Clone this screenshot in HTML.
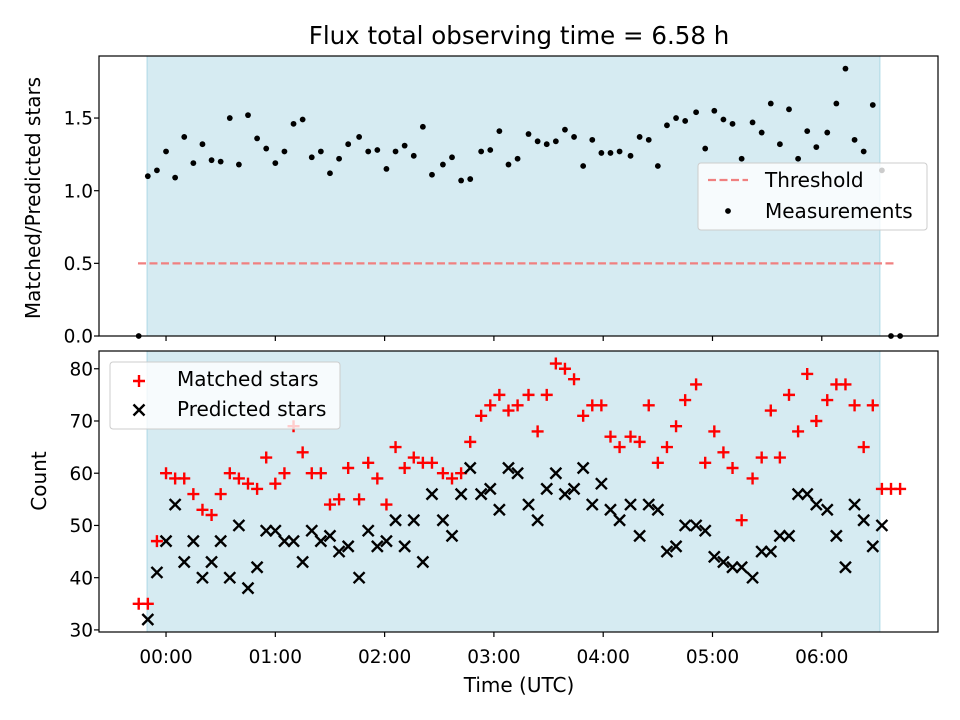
<!DOCTYPE html>
<html><head><meta charset="utf-8"><style>
html,body{margin:0;padding:0;background:#fff;}
svg{display:block;font-family:"DejaVu Sans","Liberation Sans",sans-serif;}
</style></head><body>
<svg id="chart" width="960" height="720" viewBox="0 0 960 720" xmlns="http://www.w3.org/2000/svg">
<rect width="960" height="720" fill="#fff"/>
<text x="519" y="44" text-anchor="middle" font-size="24.5">Flux total observing time = 6.58 h</text>
<g id="top"></g><g id="bot"></g>
</svg>
<script>
// time in minutes after 00:00 UTC
const times = [-15,-10,-5,0,5,10,15,20,25,30,35,40,45,50,55,60,65,70,75,80,85,90,95,100,106,111,116,121,126,131,136,141,146,152,157,162,167,173,178,183,188,193,199,204,209,214,219,224,229,234,239,244,249,255,260,265,270,275,280,285,291,296,301,306,311,316,322,327,332,337,342,347,352,357,363,368,373,378,383,388,393,398,403];
const ratios = [0,1.10,1.14,1.27,1.09,1.37,1.19,1.32,1.21,1.20,1.50,1.18,1.52,1.36,1.29,1.19,1.27,1.46,1.49,1.23,1.27,1.12,1.22,1.32,1.37,1.27,1.28,1.15,1.27,1.31,1.24,1.44,1.11,1.18,1.23,1.07,1.08,1.27,1.28,1.41,1.18,1.22,1.39,1.34,1.32,1.34,1.42,1.37,1.17,1.35,1.26,1.26,1.27,1.24,1.37,1.35,1.17,1.45,1.50,1.48,1.54,1.29,1.55,1.49,1.46,1.22,1.47,1.40,1.60,1.32,1.56,1.22,1.41,1.30,1.40,1.60,1.84,1.35,1.27,1.59,1.14,0,0];
const matched = [35,35,47,60,59,59,56,53,52,56,60,59,58,57,63,58,60,69,64,60,60,54,55,61,55,62,59,54,65,61,63,62,62,60,59,60,66,71,73,75,72,73,75,68,75,81,80,78,71,73,73,67,65,67,66,73,62,65,69,74,77,62,68,64,61,51,59,63,72,63,75,68,79,70,74,77,77,73,65,73,57,57,57];
const predicted = [null,32,41,47,54,43,47,40,43,47,40,50,38,42,49,49,47,47,43,49,47,48,45,46,40,49,46,47,51,46,51,43,56,51,48,56,61,56,57,53,61,60,54,51,57,60,56,57,61,54,58,53,51,54,48,54,53,45,46,50,50,49,44,43,42,42,40,45,45,48,48,56,56,54,53,48,42,54,51,46,50,null,null];
const threshold = [0.5];
const shadeRange = [-10.4, 391.9];
const xTicks = [0,60,120,180,240,300,360];
const xTickLabels = ["00:00","01:00","02:00","03:00","04:00","05:00","06:00"];
const topTicks = [0,0.5,1.0,1.5];
const topTickLabels = ["0.0","0.5","1.0","1.5"];
const botTicks = [30,40,50,60,70,80];
const botTickLabels = ["30","40","50","60","70","80"];

const NS="http://www.w3.org/2000/svg";
function mk(parent,tag,attrs,text){const e=document.createElementNS(NS,tag);for(const k in attrs)e.setAttribute(k,attrs[k]);if(text!==undefined)e.textContent=text;parent.appendChild(e);return e;}
const L=99,R=938, xmin=-36.8, xmax=423.8;
const X=t=>L+(t-xmin)/(xmax-xmin)*(R-L);
const tT=56,tB=336, tymin=0, tymax=1.927;
const Yt=v=>tB-(v-tymin)/(tymax-tymin)*(tB-tT);
const bT=351,bB=632, bymin=29.6, bymax=83.4;
const Yb=v=>bB-(v-bymin)/(bymax-bymin)*(bB-bT);
const TF=18.5;

function panel(g,top,bottom,Y,ticks,labels,name){
  let r=mk(g,'rect',{x:X(shadeRange[0]),y:top,width:X(shadeRange[1])-X(shadeRange[0]),height:bottom-top,fill:'#add8e6','fill-opacity':0.5,stroke:'#add8e6'});
  
  
  xTicks.forEach((t,i)=>{
    let l=mk(g,'line',{x1:X(t),x2:X(t),y1:bottom,y2:bottom+5,stroke:'#000','stroke-width':1.2});
    
    
  });
  ticks.forEach((v,i)=>{
    let l=mk(g,'line',{x1:L-5,x2:L,y1:Y(v),y2:Y(v),stroke:'#000','stroke-width':1.2});
    
    
    let tx=mk(g,'text',{x:L-6,y:Y(v)+6.7,'text-anchor':'end','font-size':TF},labels[i]);
    
    
  });
}
function frame(g,top,bottom,name){
  let f=mk(g,'rect',{x:L,y:top,width:R-L,height:bottom-top,fill:'none',stroke:'#000','stroke-width':1.2});
  
  
}
const gt=document.getElementById('top'), gb=document.getElementById('bot');
panel(gt,tT,tB,Yt,topTicks,topTickLabels,'top');
let th=mk(gt,'line',{x1:X(-15.4),x2:X(400.2),y1:Yt(threshold[0]),y2:Yt(threshold[0]),stroke:'#f08080','stroke-width':2.2,'stroke-dasharray':'8,3.5'});


times.forEach((t,i)=>{
  let c=mk(gt,'circle',{cx:X(t),cy:Yt(ratios[i]),r:2.9,fill:'#000'});
  
  
});
frame(gt,tT,tB,'top');
let yl1=mk(gt,'text',{x:40,y:198,'text-anchor':'middle','font-size':20,transform:'rotate(-90 40 198)'},'Matched/Predicted stars');


let lg=mk(gt,'g',{});


mk(lg,'rect',{x:698,y:163,width:229,height:67,rx:3,fill:'#fff','fill-opacity':0.8,stroke:'#ccc'});
mk(lg,'line',{x1:708,x2:748,y1:180,y2:180,stroke:'#f08080','stroke-width':2.2,'stroke-dasharray':'8,3.5'});
mk(lg,'text',{x:765,y:187,'font-size':20},'Threshold');
mk(lg,'circle',{cx:728,cy:211,r:2.9,fill:'#000'});
mk(lg,'text',{x:765,y:218,'font-size':20},'Measurements');

panel(gb,bT,bB,Yb,botTicks,botTickLabels,'bottom');
function plus(g,x,y){mk(g,'path',{d:`M${x-6},${y}H${x+6}M${x},${y-6}V${y+6}`,stroke:'#f00','stroke-width':2.4,fill:'none'});}
function cross(g,x,y){mk(g,'path',{d:`M${x-5.5},${y-5.5}L${x+5.5},${y+5.5}M${x-5.5},${y+5.5}L${x+5.5},${y-5.5}`,stroke:'#000','stroke-width':2.4,fill:'none'});}
times.forEach((t,i)=>{
  if(matched[i]!=null){let g=mk(gb,'g',{});
    
    
    plus(g,X(t),Yb(matched[i]));}
});
times.forEach((t,i)=>{
  if(predicted[i]!=null){let g=mk(gb,'g',{});
    
    
    cross(g,X(t),Yb(predicted[i]));}
});
frame(gb,bT,bB,'bottom');
xTicks.forEach((t,i)=>{
  let tx=mk(gb,'text',{x:X(t),y:bB+31,'text-anchor':'middle','font-size':TF},xTickLabels[i]);
  
  
});
let xl=mk(gb,'text',{x:519,y:692,'text-anchor':'middle','font-size':20},'Time (UTC)');


let yl2=mk(gb,'text',{x:46,y:481,'text-anchor':'middle','font-size':20,transform:'rotate(-90 46 481)'},'Count');


let lg2=mk(gb,'g',{});


mk(lg2,'rect',{x:110,y:362,width:230,height:67,rx:3,fill:'#fff','fill-opacity':0.8,stroke:'#ccc'});
plus(lg2,139,381);
mk(lg2,'text',{x:177,y:386,'font-size':20},'Matched stars');
cross(lg2,139,410);
mk(lg2,'text',{x:177,y:416,'font-size':20},'Predicted stars');
</script>
</body></html>
